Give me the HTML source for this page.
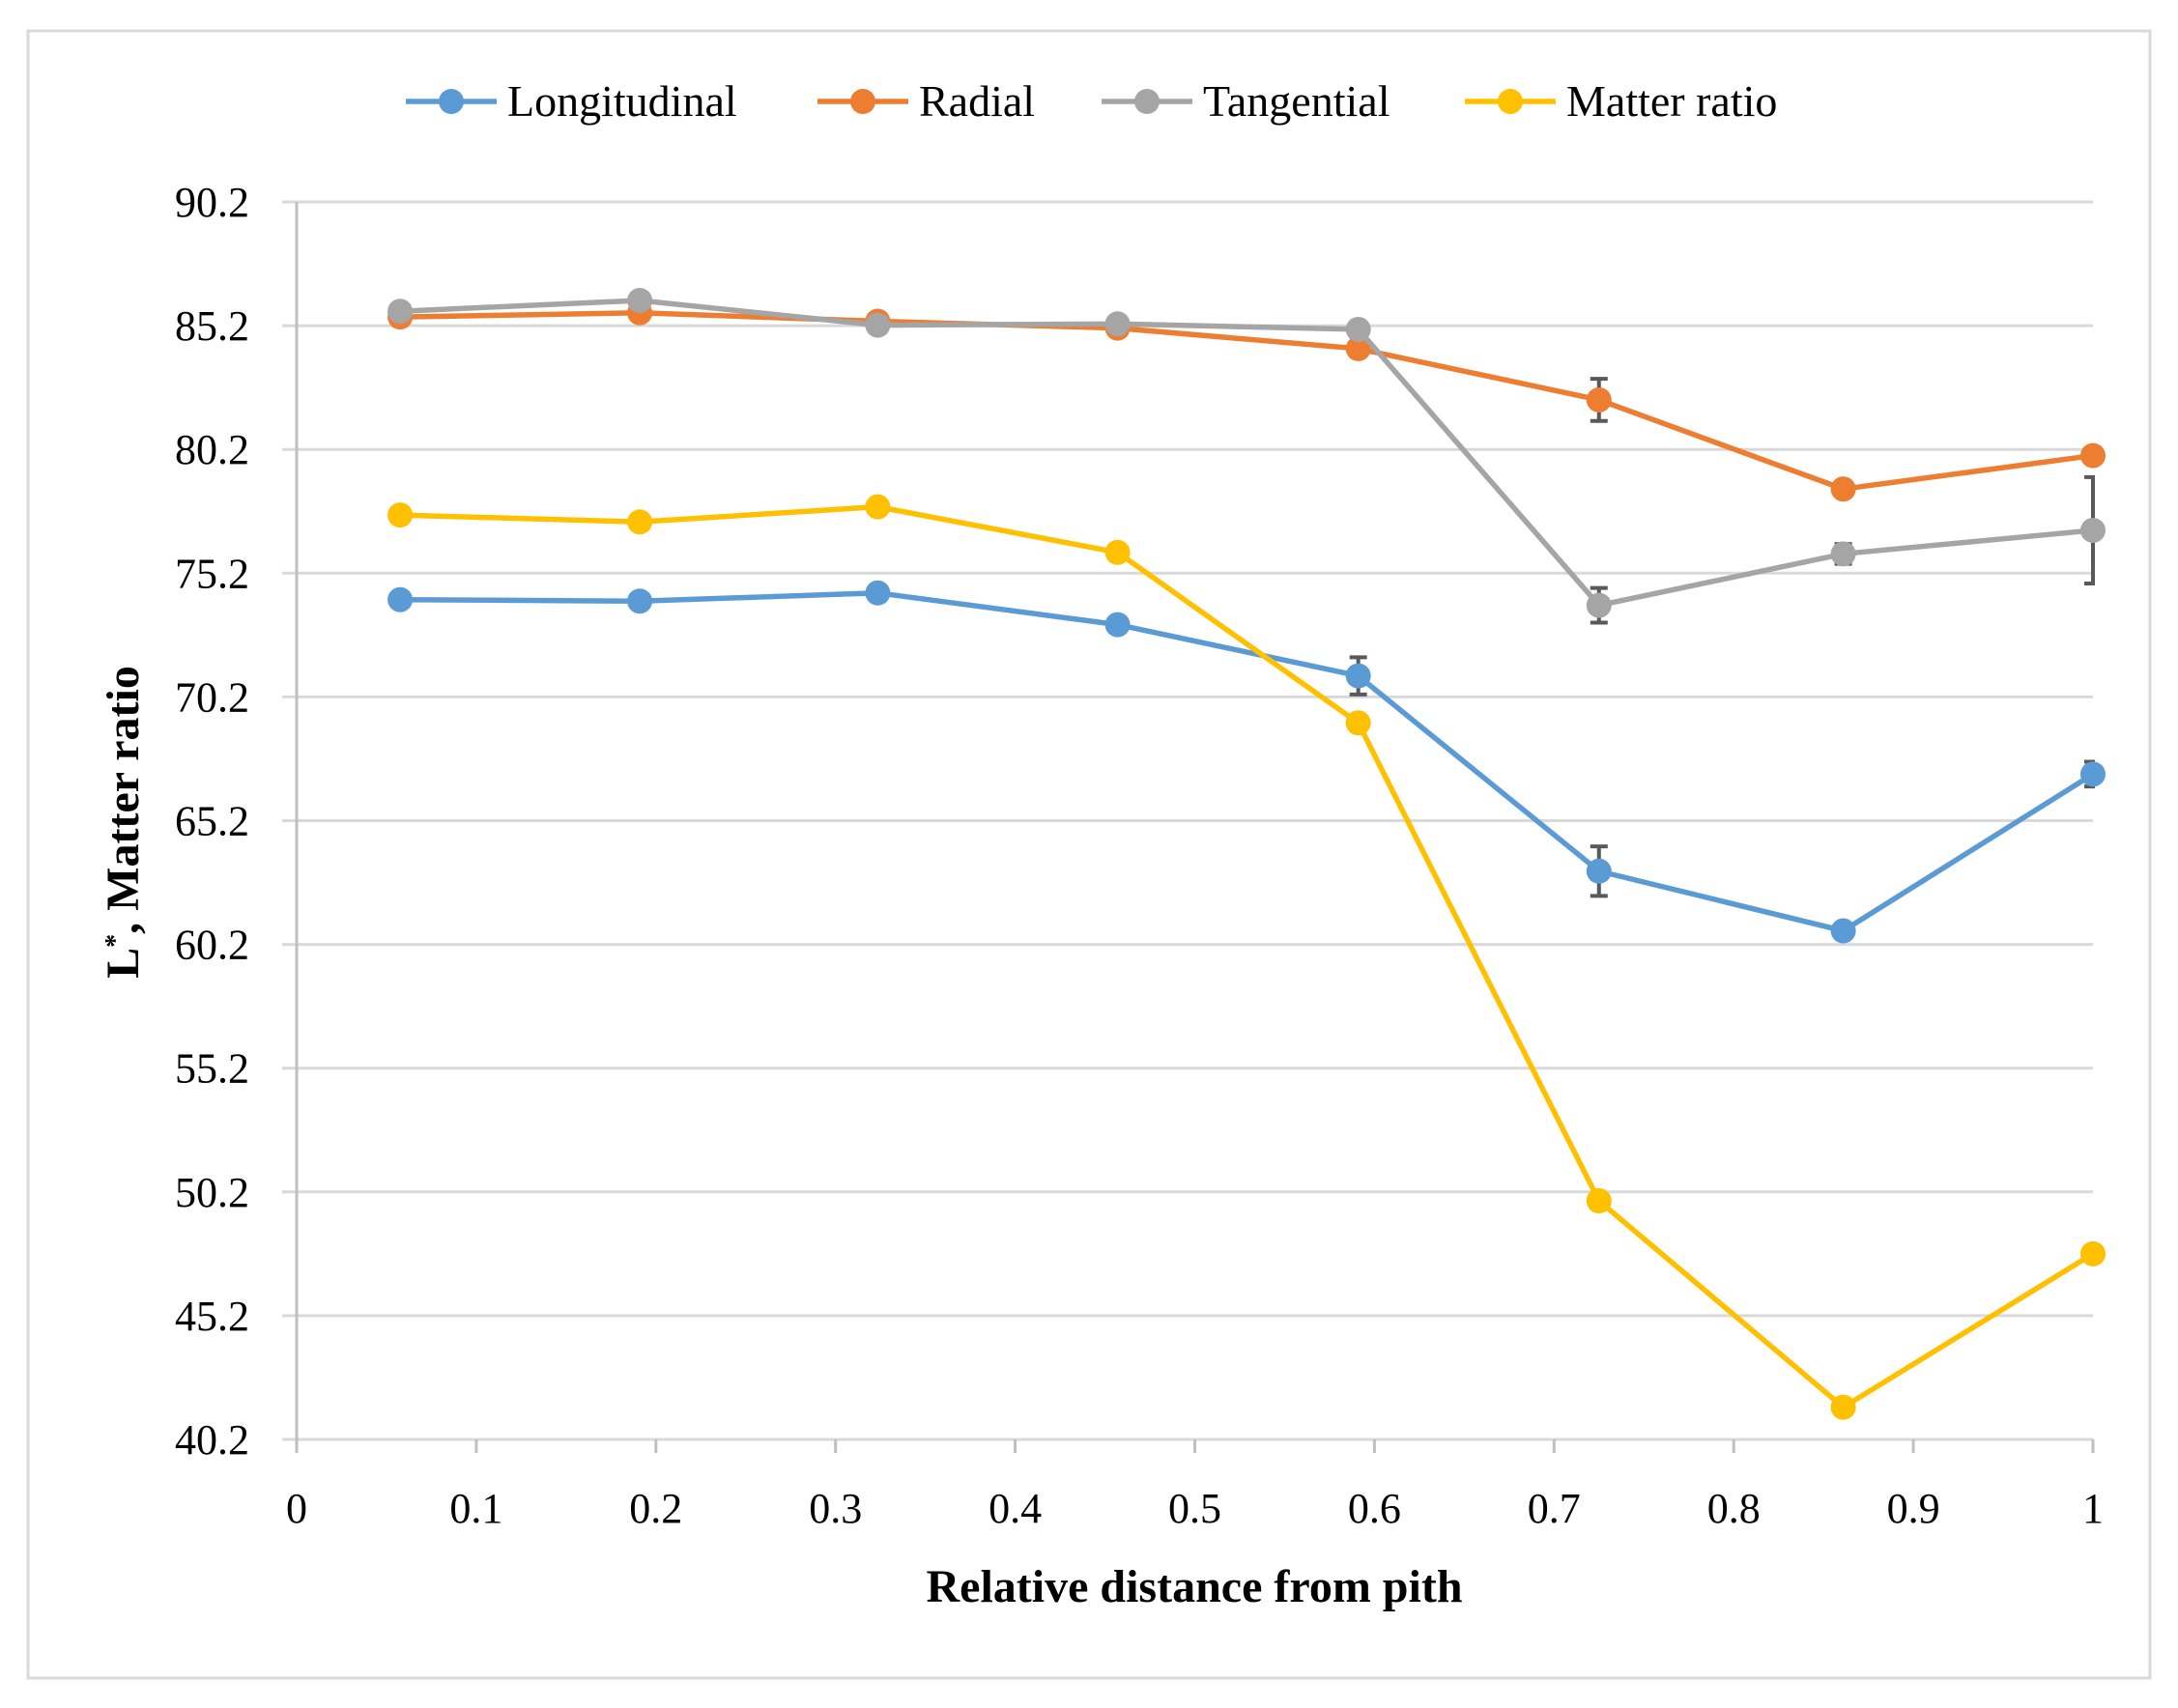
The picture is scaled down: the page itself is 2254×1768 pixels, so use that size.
<!DOCTYPE html>
<html><head><meta charset="utf-8"><style>
html,body{margin:0;padding:0;background:#fff;}
svg{display:block;font-family:"Liberation Serif",serif;}
</style></head><body>
<svg id="chart" width="2254" height="1768" viewBox="0 0 2254 1768" xmlns="http://www.w3.org/2000/svg">
<rect x="29" y="32" width="2196" height="1705" fill="#fff" stroke="#d9d9d9" stroke-width="3"/>
<defs><clipPath id="errclip"><rect x="280" y="150" width="1888" height="1400"/></clipPath></defs>
<g id="grid"></g>
<g id="axes"></g>
<g id="errs" clip-path="url(#errclip)"></g>
<g id="series"></g>
<g id="legend"></g>
<text x="1236" y="1658" text-anchor="middle" font-size="48" font-weight="bold" fill="#000">Relative distance from pith</text>
<text transform="translate(143,851) rotate(-90)" text-anchor="middle" font-size="48" font-weight="bold" fill="#000">L<tspan baseline-shift="super" font-size="28">*</tspan>, Matter ratio</text>
</svg>
<script>
const xValues = [0.0576, 0.191, 0.3235, 0.457, 0.591, 0.725, 0.861, 1.0];
const longitudinal = [74.13, 74.07, 74.4, 73.12, 71.05, 63.16, 60.75, 67.08];
const radial = [85.55, 85.72, 85.38, 85.1, 84.27, 82.2, 78.6, 79.95];
const tangential = [85.78, 86.22, 85.22, 85.27, 85.05, 73.9, 75.98, 76.93];
const matterRatio = [77.55, 77.27, 77.88, 76.04, 69.15, 49.84, 41.5, 47.7];
const longErr = [0, 0, 0, 0, 0.75, 1.0, 0, 0.5];
const radialErr = [0, 0, 0, 0, 0, 0.85, 0, 0];
const tangErr = [0, 0, 0, 0, 0, 0.7, 0.4, 2.15];
const matterErr = [0, 0, 0, 0, 0, 0, 0, 0];
const yTicks = [40.2, 45.2, 50.2, 55.2, 60.2, 65.2, 70.2, 75.2, 80.2, 85.2, 90.2];
const xTicks = [0, 0.1, 0.2, 0.3, 0.4, 0.5, 0.6, 0.7, 0.8, 0.9, 1];
const seriesNames = ["Longitudinal", "Radial", "Tangential", "Matter ratio"];

const NS = "http://www.w3.org/2000/svg";
const X0 = 307, X1 = 2166, Y0 = 1490, Y1 = 209, YMIN = 40.2, YMAX = 90.2;
const sx = v => X0 + (v - 0) / (1 - 0) * (X1 - X0);
const sy = v => Y0 - (v - YMIN) / (YMAX - YMIN) * (Y0 - Y1);
function mk(tag, attrs, parent) {
  const e = document.createElementNS(NS, tag);
  for (const k in attrs) e.setAttribute(k, attrs[k]);
  parent.appendChild(e);
  return e;
}
const grid = document.getElementById('grid'), axes = document.getElementById('axes');
yTicks.forEach(t => {
  const y = sy(t);
  const g = mk('line', {x1: 292, x2: X1, y1: y, y2: y, stroke: '#d9d9d9', 'stroke-width': 3}, grid);
  
  
  const tx = mk('text', {x: 258, y: y + 15, 'text-anchor': 'end', 'font-size': 44, fill: '#000'}, axes);
  tx.textContent = t.toFixed(1);
  
  
});
const ya = mk('line', {x1: X0, x2: X0, y1: Y1, y2: Y0, stroke: '#bfbfbf', 'stroke-width': 3}, axes);


xTicks.forEach(t => {
  const x = sx(t);
  const tk = mk('line', {x1: x, x2: x, y1: Y0, y2: Y0 + 14, stroke: '#bfbfbf', 'stroke-width': 3}, axes);
  
  
  const tx = mk('text', {x: x, y: 1576, 'text-anchor': 'middle', 'font-size': 44, fill: '#000'}, axes);
  tx.textContent = String(t);
  
  
});
const colors = ['#5B9BD5', '#ED7D31', '#A5A5A5', '#FFC000'];
const data = [longitudinal, radial, tangential, matterRatio];
const errs = [longErr, radialErr, tangErr, matterErr];
const slugs = ['longitudinal', 'radial', 'tangential', 'matter-ratio'];
const errG = document.getElementById('errs'), serG = document.getElementById('series');
data.forEach((vals, si) => {
  errs[si].forEach((e, i) => {
    if (!e) return;
    const x = sx(xValues[i]), ya_ = sy(vals[i] + e), yb = sy(vals[i] - e);
    const p = mk('path', {d: `M${x},${ya_}V${yb}M${x-9},${ya_}H${x+9}M${x-9},${yb}H${x+9}`, stroke: '#595959', 'stroke-width': 4, fill: 'none'}, errG);
    
    
  });
});
data.forEach((vals, si) => {
  const g = mk('g', {}, serG);
  
  
  const pl = mk('polyline', {points: vals.map((v, i) => sx(xValues[i]) + ',' + sy(v)).join(' '), fill: 'none', stroke: colors[si], 'stroke-width': 5.5, 'stroke-linejoin': 'round'}, g);
  
  
  vals.forEach((v, i) => {
    const c = mk('circle', {cx: sx(xValues[i]), cy: sy(v), r: 13, fill: colors[si]}, g);
    
    
  });
});
const leg = document.getElementById('legend');
const legX = [467, 893, 1187, 1563];
seriesNames.forEach((n, i) => {
  const g = mk('g', {}, leg);
  
  
  mk('line', {x1: legX[i] - 47, x2: legX[i] + 47, y1: 105, y2: 105, stroke: colors[i], 'stroke-width': 5.5}, g);
  mk('circle', {cx: legX[i], cy: 105, r: 13, fill: colors[i]}, g);
  const t = mk('text', {x: legX[i] + 58, y: 120, 'font-size': 46, fill: '#000'}, g);
  t.textContent = n;
});
</script>
</body></html>
